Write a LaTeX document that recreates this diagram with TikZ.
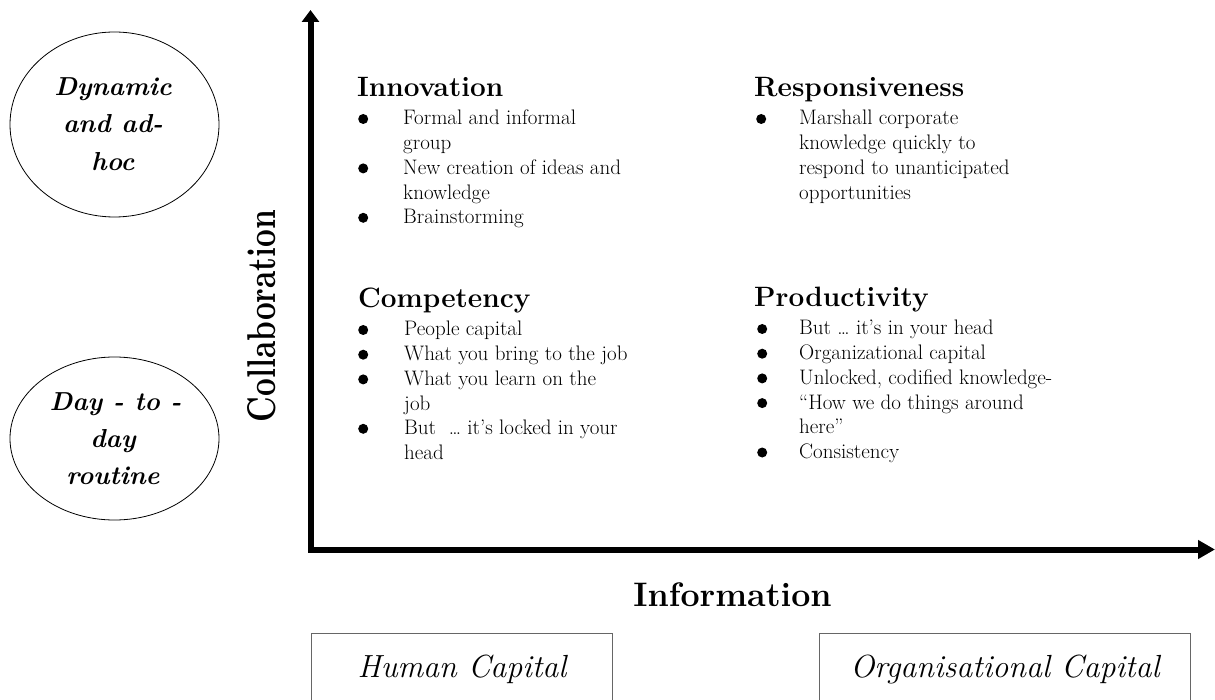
\documentclass[tikz,border=0pt]{standalone}
\usepackage{fontspec}
\usetikzlibrary{arrows.meta,shapes.geometric}
\newcommand{\blt}{\tikz[baseline=0pt]\fill (5pt,6pt) circle (5pt);}
\tikzset{
  axis/.style={line width=6pt, line join=miter},
  qtitle/.style={anchor=base west, inner sep=0pt, font=\fontsize{28}{30}\selectfont\bfseries},
  bodytext/.style={anchor=base west, inner sep=0pt, font=\fontsize{21}{24.7}\selectfont},
  oval/.style={draw, line width=0.8pt, ellipse, inner sep=0pt, minimum width=209pt},
  ovaltext/.style={anchor=base, inner sep=0pt, font=\fontsize{26}{30}\selectfont\bfseries\itshape\addfontfeatures{LetterSpace=4}},
  capbox/.style={draw=black!60, line width=1pt, minimum height=72pt, inner sep=0pt, font=\fontsize{32}{34}\selectfont\itshape},
}
\begin{document}
\begin{tikzpicture}[x=1pt,y=-1pt]
\path[use as bounding box] (0,0) rectangle (1215,700);
\clip (0,0) rectangle (1215,700);

% ovals
\node[oval, minimum height=185pt] (dyn) at (114.5,124.5) {};
\node[ovaltext] (dyn1) at (113,96) {Dynamic};
\node[ovaltext] (dyn2) at (113,133) {and ad-};
\node[ovaltext] (dyn3) at (113,171) {hoc};

\node[oval, minimum height=163pt] (day) at (114.5,438.5) {};
\node[ovaltext] (day1) at (115.5,410) {Day - to -};
\node[ovaltext] (day2) at (113,447) {day};
\node[ovaltext] (day3) at (113,484) {routine};

% axis label
\node[rotate=90, inner sep=0pt] (collab) at (262,316) {\resizebox{212pt}{28pt}{\bfseries Collaboration}};
\node[anchor=base, inner sep=0pt, font=\fontsize{34}{36}\selectfont\bfseries] (info) at (732.5,606) {Information};

% axes
\coordinate (ytop) at (310.5,10);
\coordinate (orig) at (310.5,549.5);
\coordinate (xend) at (1215,549.5);
\draw[axis, {Triangle[length=12pt,width=17pt]}-{Triangle[length=17pt,width=18pt]}] (ytop) -- (orig) -- (xend);

% quadrants
\node[qtitle] (inn) at (357,97) {Innovation};
\node[bodytext] (innl) at (358,125) {\begin{tabular}[t]{@{}p{45pt}@{}l@{}}
\blt & Formal and informal\\
 & group\\
\blt & New creation of ideas and\\
 & knowledge\\
\blt & Brainstorming
\end{tabular}};

\node[qtitle] (res) at (754,97) {Responsiveness};
\node[bodytext] (resl) at (756,125) {\begin{tabular}[t]{@{}p{43pt}@{}l@{}}
\blt & Marshall corporate\\
 & knowledge quickly to\\
 & respond to unanticipated\\
 & opportunities
\end{tabular}};

\node[qtitle] (comp) at (358,308) {Competency};
\node[bodytext] (compl) at (358,336) {\begin{tabular}[t]{@{}p{46pt}@{}l@{}}
\blt & People capital\\
\blt & What you bring to the job\\
\blt & What you learn on the\\
 & job\\
\blt & But \ … it’s locked in your\\
 & head
\end{tabular}};

\node[qtitle] (prod) at (754,307) {Productivity};
\node[bodytext] (prodl) at (757,335) {\begin{tabular}[t]{@{}p{42pt}@{}l@{}}
\blt & But … it’s in your head\\
\blt & Organizational capital\\
\blt & Unlocked, codified knowledge-\\
\blt & “How we do things around\\
 & here”\\
\blt & Consistency
\end{tabular}};

% capital boxes
\node[capbox, minimum width=301pt, anchor=north west] (hc) at (311,633) {Human Capital};
\node[capbox, minimum width=371pt, anchor=north west] (oc) at (819,633) {Organisational Capital};
\end{tikzpicture}
\end{document}
